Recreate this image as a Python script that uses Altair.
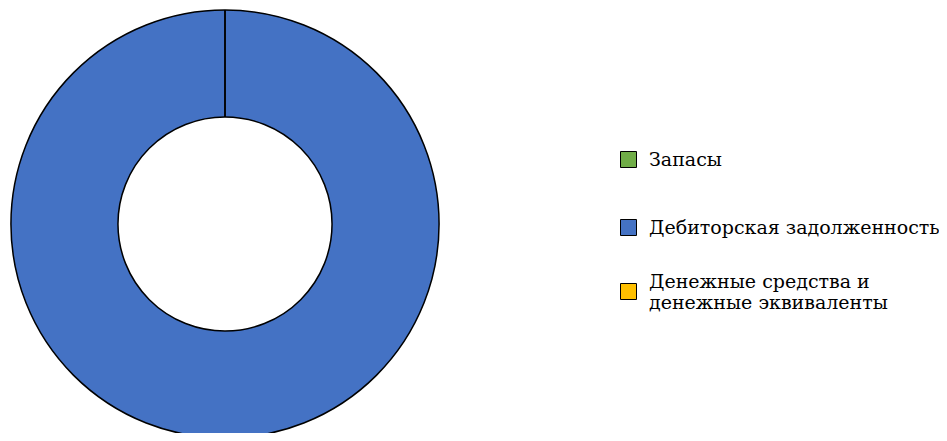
import altair as alt
import pandas as pd

categories = ["Запасы", "Дебиторская задолженность", "Денежные средства и денежные эквиваленты"]
values = [0.0, 100.0, 0.0]
colors = ["#70AD47", "#4472C4", "#FFC000"]
long_lines = ["Денежные средства и", "денежные эквиваленты"]

df = pd.DataFrame({"cat": categories, "val": values, "order": [0, 1, 2]})

FONT = "DejaVu Serif"

common = dict(
    title=None,
    orient="none",
    symbolType="square",
    symbolSize=256,
    symbolStrokeColor="black",
    symbolStrokeWidth=1,
    labelFont=FONT,
    labelFontSize=19,
    labelColor="black",
    labelLimit=400,
    labelOffset=11,
)

base = alt.Chart(df).encode(
    theta=alt.Theta("val:Q", stack=True),
    order=alt.Order("order:Q"),
    x=alt.value(217),
    y=alt.value(216),
)

arcs = base.mark_arc(
    outerRadius=214, innerRadius=107, stroke="black", strokeWidth=1.5
).encode(
    color=alt.Color(
        "cat:N",
        scale=alt.Scale(domain=categories, range=colors),
        sort=categories,
        legend=alt.Legend(
            legendX=611, legendY=142, rowPadding=47,
            values=categories[:2], labelBaseline="middle", **common
        ),
    ),
)

legend3 = base.transform_filter(
    alt.datum.cat == categories[2]
).mark_arc(
    outerRadius=214, innerRadius=107, stroke="black", strokeWidth=1.5
).encode(
    fill=alt.Fill(
        "cat:N",
        scale=alt.Scale(domain=categories[2:], range=colors[2:]),
        legend=alt.Legend(
            legendX=611, legendY=274, labelBaseline="bottom",
            labelExpr="[" + ", ".join(f"'{s}'" for s in long_lines) + "]",
            **common
        ),
    ),
)

chart = alt.layer(arcs, legend3).properties(
    width=931, height=425, autosize=alt.AutoSizeParams(type="none"), padding=0
).configure_view(stroke=None).configure_legend(labelFont=FONT)

chart.save("out.html", embed_options={"renderer": "svg", "actions": False})
